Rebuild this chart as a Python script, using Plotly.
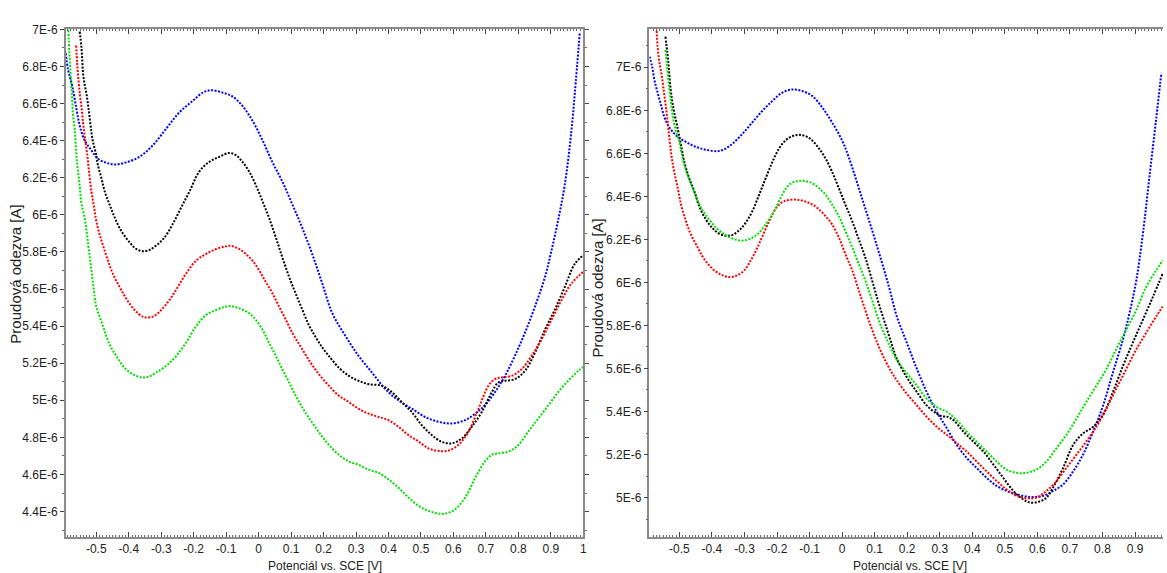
import numpy as np
import plotly.graph_objects as go

# ---------------- data (potential in V, current in 1e-6 A) ----------------
L_blue_v = [-0.594,-0.587,-0.574,-0.561,-0.551,-0.536,-0.515,-0.495,-0.469,-0.444,-0.408,-0.367,-0.326,-0.285,-0.244,-0.203,-0.172,-0.147,-0.111,-0.080,-0.050,-0.019,0.012,0.042,0.073,0.104,0.134,0.165,0.196,0.227,0.268,0.308,0.349,0.390,0.431,0.472,0.513,0.554,0.595,0.636,0.667,0.697,0.728,0.759,0.789,0.820,0.851,0.882,0.902,0.922,0.943,0.963,0.974,0.989]
L_blue_i = [6.872,6.783,6.695,6.570,6.481,6.402,6.348,6.303,6.281,6.272,6.283,6.313,6.375,6.464,6.553,6.615,6.659,6.672,6.659,6.638,6.588,6.508,6.402,6.286,6.180,6.056,5.931,5.789,5.630,5.469,5.345,5.239,5.150,5.061,4.999,4.955,4.910,4.884,4.875,4.893,4.928,4.973,5.044,5.132,5.239,5.363,5.505,5.665,5.807,5.967,6.162,6.446,6.659,6.979]

L_black_v = [-0.551,-0.546,-0.543,-0.541,-0.536,-0.530,-0.525,-0.520,-0.515,-0.510,-0.500,-0.495,-0.484,-0.474,-0.459,-0.443,-0.423,-0.397,-0.377,-0.357,-0.336,-0.316,-0.290,-0.265,-0.239,-0.213,-0.183,-0.152,-0.121,-0.091,-0.070,-0.050,-0.029,-0.009,0.012,0.032,0.053,0.073,0.094,0.114,0.135,0.155,0.176,0.196,0.217,0.247,0.278,0.308,0.339,0.380,0.411,0.441,0.472,0.503,0.534,0.564,0.595,0.626,0.656,0.687,0.718,0.738,0.759,0.789,0.820,0.851,0.882,0.912,0.943,0.974,1.004]
L_black_i = [6.988,6.908,6.828,6.766,6.704,6.650,6.588,6.517,6.446,6.393,6.322,6.268,6.197,6.126,6.055,5.984,5.913,5.851,5.816,5.804,5.811,5.834,5.878,5.949,6.038,6.126,6.233,6.286,6.313,6.334,6.322,6.286,6.233,6.162,6.073,5.984,5.878,5.771,5.665,5.576,5.487,5.405,5.340,5.285,5.238,5.176,5.132,5.105,5.087,5.078,5.043,4.990,4.936,4.865,4.812,4.776,4.768,4.794,4.856,4.936,5.043,5.096,5.105,5.114,5.158,5.256,5.381,5.487,5.611,5.736,5.789]

L_red_v = [-0.562,-0.559,-0.555,-0.550,-0.545,-0.541,-0.537,-0.532,-0.527,-0.524,-0.520,-0.515,-0.510,-0.505,-0.500,-0.490,-0.479,-0.464,-0.449,-0.428,-0.408,-0.382,-0.357,-0.341,-0.321,-0.300,-0.275,-0.249,-0.224,-0.193,-0.162,-0.131,-0.101,-0.085,-0.060,-0.039,-0.019,0.002,0.022,0.043,0.063,0.084,0.104,0.125,0.145,0.165,0.186,0.216,0.247,0.278,0.308,0.339,0.370,0.401,0.431,0.462,0.493,0.523,0.554,0.585,0.615,0.646,0.677,0.708,0.728,0.749,0.779,0.810,0.840,0.871,0.902,0.933,0.963,1.004]
L_red_i = [6.913,6.819,6.730,6.641,6.572,6.500,6.439,6.375,6.313,6.260,6.197,6.126,6.073,6.020,5.967,5.895,5.833,5.753,5.682,5.611,5.549,5.487,5.451,5.446,5.455,5.487,5.540,5.611,5.682,5.753,5.789,5.816,5.830,5.833,5.816,5.789,5.753,5.700,5.638,5.576,5.505,5.434,5.363,5.301,5.245,5.190,5.140,5.079,5.025,4.990,4.954,4.928,4.910,4.892,4.857,4.812,4.777,4.741,4.727,4.729,4.759,4.830,4.954,5.079,5.114,5.123,5.132,5.167,5.238,5.327,5.434,5.540,5.629,5.700]

L_green_v = [-0.586,-0.583,-0.579,-0.575,-0.572,-0.566,-0.563,-0.559,-0.554,-0.550,-0.546,-0.536,-0.530,-0.525,-0.520,-0.515,-0.510,-0.505,-0.500,-0.490,-0.479,-0.469,-0.454,-0.438,-0.418,-0.397,-0.377,-0.357,-0.336,-0.316,-0.285,-0.254,-0.224,-0.193,-0.162,-0.131,-0.101,-0.085,-0.060,-0.029,-0.009,0.012,0.032,0.053,0.073,0.094,0.114,0.135,0.155,0.176,0.196,0.216,0.247,0.278,0.308,0.339,0.370,0.401,0.431,0.462,0.493,0.523,0.554,0.575,0.605,0.636,0.667,0.697,0.718,0.738,0.769,0.800,0.830,0.861,0.892,0.922,0.953,0.984,1.004]
L_green_i = [6.997,6.876,6.755,6.650,6.547,6.450,6.366,6.278,6.203,6.132,6.064,5.984,5.913,5.842,5.771,5.700,5.629,5.558,5.505,5.451,5.398,5.345,5.283,5.239,5.185,5.150,5.132,5.123,5.129,5.150,5.185,5.239,5.310,5.398,5.460,5.487,5.505,5.508,5.496,5.469,5.434,5.380,5.310,5.239,5.167,5.096,5.025,4.960,4.905,4.852,4.803,4.760,4.706,4.670,4.652,4.626,4.608,4.572,4.528,4.475,4.430,4.404,4.389,4.389,4.412,4.475,4.581,4.670,4.706,4.714,4.723,4.759,4.830,4.901,4.972,5.043,5.105,5.158,5.185]

R_blue_v = [-0.592,-0.584,-0.577,-0.567,-0.556,-0.546,-0.531,-0.510,-0.480,-0.449,-0.419,-0.383,-0.362,-0.337,-0.306,-0.276,-0.245,-0.214,-0.184,-0.153,-0.123,-0.092,-0.061,-0.031,0.000,0.020,0.061,0.102,0.143,0.168,0.199,0.230,0.260,0.291,0.322,0.352,0.383,0.413,0.444,0.475,0.505,0.536,0.577,0.618,0.648,0.679,0.710,0.740,0.771,0.802,0.832,0.863,0.883,0.904,0.924,0.945,0.965,0.981]
R_blue_i = [7.050,7.005,6.943,6.882,6.821,6.767,6.721,6.683,6.653,6.630,6.617,6.610,6.619,6.645,6.691,6.744,6.798,6.844,6.882,6.897,6.890,6.867,6.813,6.744,6.660,6.584,6.392,6.194,5.985,5.842,5.719,5.597,5.490,5.398,5.321,5.245,5.184,5.138,5.092,5.054,5.031,5.015,5.003,5.008,5.031,5.061,5.122,5.199,5.306,5.428,5.581,5.735,5.857,6.010,6.224,6.500,6.760,6.974]

R_black_v = [-0.543,-0.537,-0.533,-0.529,-0.523,-0.516,-0.505,-0.495,-0.485,-0.470,-0.454,-0.439,-0.419,-0.398,-0.378,-0.357,-0.337,-0.316,-0.296,-0.276,-0.255,-0.235,-0.214,-0.194,-0.174,-0.153,-0.133,-0.112,-0.092,-0.071,-0.051,-0.031,-0.010,0.010,0.031,0.051,0.071,0.092,0.112,0.133,0.153,0.168,0.199,0.230,0.260,0.291,0.306,0.322,0.342,0.373,0.403,0.434,0.465,0.495,0.526,0.556,0.577,0.607,0.628,0.648,0.679,0.710,0.740,0.771,0.801,0.832,0.863,0.893,0.924,0.955,0.985]
R_black_i = [7.142,7.066,7.005,6.928,6.852,6.790,6.714,6.637,6.561,6.484,6.423,6.354,6.293,6.252,6.227,6.217,6.221,6.243,6.278,6.331,6.408,6.484,6.561,6.622,6.660,6.680,6.686,6.680,6.660,6.622,6.576,6.515,6.438,6.362,6.285,6.201,6.117,6.010,5.905,5.805,5.710,5.645,5.558,5.490,5.428,5.390,5.378,5.376,5.360,5.306,5.260,5.214,5.153,5.092,5.031,4.992,4.977,4.982,5.000,5.046,5.138,5.245,5.298,5.329,5.383,5.490,5.612,5.719,5.826,5.933,6.041]

R_green_v = [-0.543,-0.539,-0.533,-0.526,-0.519,-0.510,-0.500,-0.490,-0.475,-0.459,-0.439,-0.413,-0.388,-0.362,-0.337,-0.311,-0.286,-0.260,-0.235,-0.209,-0.184,-0.163,-0.143,-0.117,-0.092,-0.071,-0.051,-0.031,-0.010,0.010,0.031,0.051,0.071,0.092,0.112,0.133,0.168,0.199,0.230,0.260,0.291,0.322,0.352,0.383,0.413,0.444,0.475,0.505,0.536,0.567,0.597,0.628,0.659,0.689,0.720,0.750,0.781,0.812,0.842,0.873,0.904,0.934,0.965,0.985]
R_green_i = [7.081,7.020,6.928,6.836,6.760,6.699,6.653,6.576,6.500,6.438,6.362,6.301,6.255,6.224,6.204,6.194,6.201,6.224,6.270,6.331,6.408,6.454,6.469,6.472,6.461,6.438,6.408,6.362,6.308,6.239,6.163,6.086,6.010,5.918,5.826,5.750,5.640,5.578,5.520,5.459,5.421,5.398,5.360,5.306,5.260,5.214,5.168,5.130,5.115,5.115,5.130,5.168,5.230,5.291,5.367,5.444,5.520,5.597,5.689,5.780,5.872,5.979,6.056,6.102]

R_red_v = [-0.570,-0.567,-0.562,-0.554,-0.548,-0.542,-0.536,-0.530,-0.524,-0.516,-0.505,-0.495,-0.480,-0.465,-0.444,-0.424,-0.398,-0.373,-0.347,-0.322,-0.301,-0.281,-0.260,-0.240,-0.219,-0.199,-0.179,-0.153,-0.128,-0.102,-0.077,-0.051,-0.031,-0.010,0.010,0.031,0.051,0.071,0.092,0.112,0.133,0.153,0.168,0.199,0.230,0.260,0.291,0.322,0.352,0.383,0.413,0.444,0.475,0.505,0.536,0.567,0.597,0.628,0.659,0.689,0.720,0.750,0.781,0.812,0.842,0.873,0.904,0.934,0.965,0.985]
R_red_i = [7.170,7.096,7.028,6.959,6.890,6.821,6.744,6.660,6.584,6.515,6.438,6.362,6.285,6.224,6.163,6.109,6.063,6.037,6.025,6.033,6.056,6.102,6.163,6.232,6.301,6.354,6.377,6.385,6.382,6.370,6.347,6.308,6.270,6.209,6.132,6.056,5.964,5.872,5.780,5.704,5.635,5.580,5.545,5.482,5.428,5.375,5.329,5.291,5.253,5.214,5.168,5.122,5.077,5.038,5.008,4.997,5.000,5.031,5.077,5.138,5.199,5.260,5.329,5.413,5.505,5.597,5.689,5.765,5.842,5.888]

# tick labels
L_xtick_vals = [-0.5,-0.4,-0.3,-0.2,-0.1,0,0.1,0.2,0.3,0.4,0.5,0.6,0.7,0.8,0.9,1.0]
L_xtick_text = ["-0.5","-0.4","-0.3","-0.2","-0.1","0","0.1","0.2","0.3","0.4","0.5","0.6","0.7","0.8","0.9","1"]
R_xtick_vals = L_xtick_vals[:-1]
R_xtick_text = L_xtick_text[:-1]
L_ytick_vals = [4.4,4.6,4.8,5.0,5.2,5.4,5.6,5.8,6.0,6.2,6.4,6.6,6.8,7.0]
L_ytick_text = ["4.4E-6","4.6E-6","4.8E-6","5E-6","5.2E-6","5.4E-6","5.6E-6","5.8E-6","6E-6","6.2E-6","6.4E-6","6.6E-6","6.8E-6","7E-6"]
R_ytick_vals = [5.0,5.2,5.4,5.6,5.8,6.0,6.2,6.4,6.6,6.8,7.0]
R_ytick_text = ["5E-6","5.2E-6","5.4E-6","5.6E-6","5.8E-6","6E-6","6.2E-6","6.4E-6","6.6E-6","6.8E-6","7E-6"]

x_title = "Potenciál vs. SCE [V]"
y_title = "Proudová odezva [A]"

# ---------------- figure ----------------
W, H = 1167, 573
fig = go.Figure()

colors = {"blue": "#0000ff", "black": "#000000", "red": "#ff0000", "green": "#00e000"}
left = [("blue", L_blue_v, L_blue_i), ("black", L_black_v, L_black_i),
        ("red", L_red_v, L_red_i), ("green", L_green_v, L_green_i)]
right = [("blue", R_blue_v, R_blue_i), ("black", R_black_v, R_black_i),
         ("red", R_red_v, R_red_i), ("green", R_green_v, R_green_i)]

line_dash = "2px,1.5px"
for name, v, i in left:
    fig.add_trace(go.Scatter(x=v, y=np.array(i) * 1e-6, mode="lines", xaxis="x", yaxis="y",
                             line=dict(color=colors[name], width=2, shape="spline", dash=line_dash),
                             showlegend=False, hoverinfo="skip"))
for name, v, i in right:
    fig.add_trace(go.Scatter(x=v, y=np.array(i) * 1e-6, mode="lines", xaxis="x2", yaxis="y2",
                             line=dict(color=colors[name], width=2, shape="spline", dash=line_dash),
                             showlegend=False, hoverinfo="skip"))

def px_x(p):
    return p / W

def px_y(p):
    return 1 - p / H

tickfont = dict(family="Liberation Sans, Arial, sans-serif", size=12, color="#222")
axis_common = dict(showgrid=False, zeroline=False, showline=True, linecolor="#8a8a8a",
                   linewidth=1.5, tickcolor="#444", tickfont=tickfont)

LX0, LX1, TOP, BOT = 66, 585.3, 22.7, 536.7
RX0 = 651.7

fig.update_layout(
    width=W, height=H, margin=dict(l=0, r=0, t=0, b=0),
    paper_bgcolor="white", plot_bgcolor="white",
    xaxis=dict(domain=[px_x(LX0), px_x(LX1)], range=[-0.594, 1.0], anchor="y",
               tickmode="array", tickvals=L_xtick_vals, ticktext=L_xtick_text,
               ticks="inside", ticklen=5, mirror="ticks",
               minor=dict(ticks="inside", ticklen=2, dtick=0.01, tick0=0, tickcolor="#666"),
               **axis_common),
    yaxis=dict(domain=[px_y(BOT), px_y(TOP)], range=[4.262e-6, 7.0e-6], anchor="x",
               tickmode="array", tickvals=[t * 1e-6 for t in L_ytick_vals], ticktext=L_ytick_text,
               ticks="outside", ticklen=4, mirror="ticks",
               minor=dict(ticks="outside", ticklen=2, dtick=0.1e-6, tick0=0, tickcolor="#666"),
               **axis_common),
    xaxis2=dict(domain=[px_x(RX0), 1.0], range=[-0.592, 0.986], anchor="y2",
                tickmode="array", tickvals=R_xtick_vals, ticktext=R_xtick_text,
                ticks="inside", ticklen=5, mirror="ticks",
                minor=dict(ticks="inside", ticklen=2, dtick=0.01, tick0=0, tickcolor="#666"),
                **axis_common),
    yaxis2=dict(domain=[px_y(BOT), px_y(TOP)], range=[4.816e-6, 7.176e-6], anchor="x2",
                tickmode="array", tickvals=[t * 1e-6 for t in R_ytick_vals], ticktext=R_ytick_text,
                ticks="outside", ticklen=4, mirror=False,
                minor=dict(ticks="outside", ticklen=2, dtick=0.1e-6, tick0=0, tickcolor="#666"),
                **axis_common),
)

title_font = dict(family="Liberation Sans, Arial, sans-serif", size=12, color="#222")
ytitle_font = dict(family="Liberation Sans, Arial, sans-serif", size=15, color="#222")
annots = [
    dict(text=x_title, x=px_x((LX0 + LX1) / 2), y=px_y(566), xref="paper", yref="paper",
         showarrow=False, font=title_font, xanchor="center", yanchor="middle"),
    dict(text=x_title, x=px_x(913), y=px_y(566), xref="paper", yref="paper",
         showarrow=False, font=title_font, xanchor="center", yanchor="middle"),
    dict(text=y_title, x=px_x(16), y=px_y(270), xref="paper", yref="paper", textangle=-90,
         showarrow=False, font=ytitle_font, xanchor="center", yanchor="middle"),
    dict(text=y_title, x=px_x(600), y=px_y(284), xref="paper", yref="paper", textangle=-90,
         showarrow=False, font=ytitle_font, xanchor="center", yanchor="middle"),
]
fig.update_layout(annotations=annots)

fig.write_html("out.html", config={"displayModeBar": False},
               post_script="document.body.style.margin='0';document.body.style.overflow='hidden';")
